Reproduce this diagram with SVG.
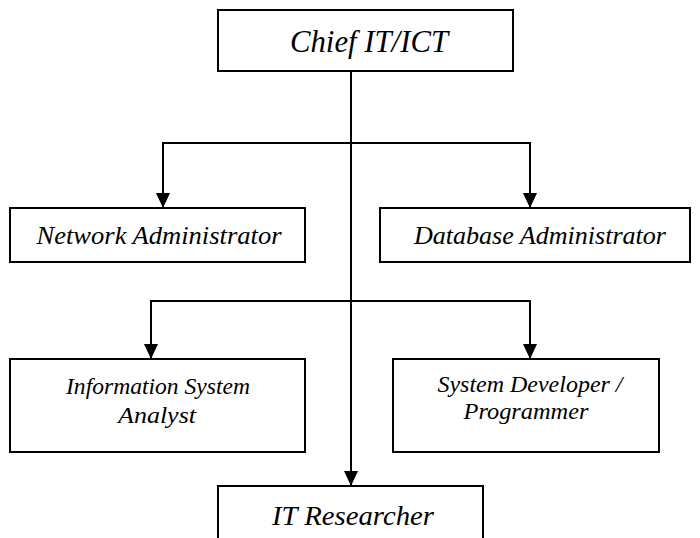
<svg xmlns="http://www.w3.org/2000/svg" width="700" height="538" viewBox="0 0 700 538">
<defs>
<marker id="ah" viewBox="0 0 15 14" refX="15" refY="7" markerWidth="15" markerHeight="14" markerUnits="userSpaceOnUse" orient="auto">
<path d="M0,0 L15,7 L0,14 Z" fill="#000"/>
</marker>
<style>
.box{fill:#fff;stroke:#000;stroke-width:2}
.t{font-family:"Liberation Serif","Times New Roman",serif;font-style:italic;fill:#000;text-anchor:middle}
.c{fill:none;stroke:#000;stroke-width:2}
</style>
</defs>
<rect width="700" height="538" fill="#fff"/>
<g id="connectors">
<line class="c" x1="351" y1="71" x2="351" y2="486" marker-end="url(#ah)"/>
<line class="c" x1="163" y1="143" x2="530" y2="143"/>
<line class="c" x1="163" y1="142" x2="163" y2="208" marker-end="url(#ah)"/>
<line class="c" x1="530" y1="142" x2="530" y2="208" marker-end="url(#ah)"/>
<line class="c" x1="151" y1="301" x2="530" y2="301"/>
<line class="c" x1="151" y1="300" x2="151" y2="359" marker-end="url(#ah)"/>
<line class="c" x1="530" y1="300" x2="530" y2="359" marker-end="url(#ah)"/>
</g>
<g id="chief">
<rect class="box" x="218" y="10" width="295" height="61"/>
<text class="t" x="369" y="52" font-size="31" textLength="158" lengthAdjust="spacingAndGlyphs">Chief IT/ICT</text>
</g>
<g id="network">
<rect class="box" x="10" y="208" width="295" height="54"/>
<text class="t" x="159" y="244" font-size="26" textLength="245" lengthAdjust="spacingAndGlyphs">Network Administrator</text>
</g>
<g id="database">
<rect class="box" x="380" y="208" width="310" height="54"/>
<text class="t" x="540" y="244" font-size="26" textLength="252" lengthAdjust="spacingAndGlyphs">Database Administrator</text>
</g>
<g id="analyst">
<rect class="box" x="10" y="359" width="295" height="93"/>
<text class="t" x="158" y="394" font-size="23" textLength="184" lengthAdjust="spacingAndGlyphs">Information System</text>
<text class="t" x="157" y="423" font-size="23" textLength="78" lengthAdjust="spacingAndGlyphs">Analyst</text>
</g>
<g id="developer">
<rect class="box" x="393" y="359" width="266" height="93"/>
<text class="t" x="530" y="392" font-size="23" textLength="185" lengthAdjust="spacingAndGlyphs">System Developer /</text>
<text class="t" x="526" y="419" font-size="23" textLength="125" lengthAdjust="spacingAndGlyphs">Programmer</text>
</g>
<g id="researcher">
<rect class="box" x="218" y="486" width="265" height="60"/>
<text class="t" x="353" y="525" font-size="27" textLength="162" lengthAdjust="spacingAndGlyphs">IT Researcher</text>
</g>
</svg>
